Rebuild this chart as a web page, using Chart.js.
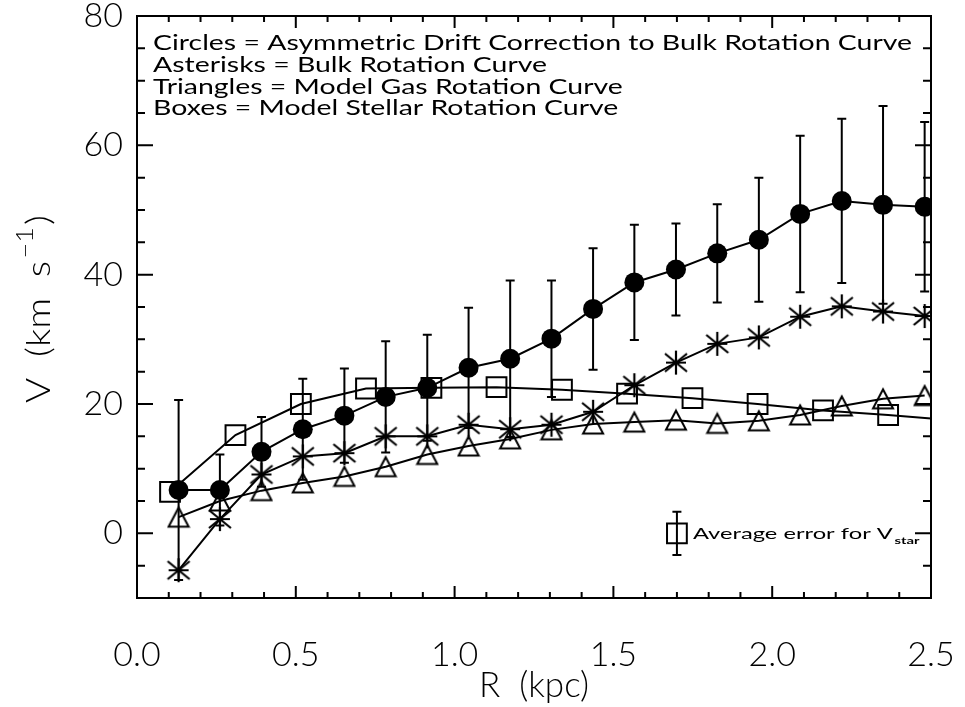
<!DOCTYPE html>
<html>
<head>
<meta charset="utf-8">
<script src="https://cdn.jsdelivr.net/npm/chart.js@4.4.1/dist/chart.umd.min.js"></script>
<style>
  html, body { margin: 0; padding: 0; background: #fff; }
  #chart { display: block; }
</style>
</head>
<body>
<canvas id="chart" width="965" height="707"></canvas>
<script>
// radii shared by circles, asterisks and triangles (kpc)
const radii = [0.131, 0.261, 0.392, 0.522, 0.653, 0.783, 0.914, 1.044, 1.175, 1.305,
  1.436, 1.566, 1.697, 1.827, 1.958, 2.088, 2.219, 2.349, 2.480];

// circles: asymmetric drift corrected curve + its errors
const vDrift = [6.7, 6.7, 12.6, 16.1, 18.2, 21.1, 22.5, 25.6, 27.0, 30.1,
  34.7, 38.8, 40.8, 43.3, 45.4, 49.4, 51.4, 50.8, 50.5];
const errDrift = [13.9, 5.5, 5.4, 7.8, 7.3, 8.6, 8.2, 9.3, 12.1, 9.0,
  9.4, 8.9, 7.1, 7.6, 9.6, 12.1, 12.7, 15.3, 13.1];

// asterisks: bulk rotation curve
const vBulk = [-5.7, 2.2, 9.1, 11.9, 12.4, 15.0, 15.0, 16.8, 16.1, 16.8,
  18.8, 22.9, 26.4, 29.3, 30.3, 33.5, 35.1, 34.3, 33.6];

// triangles: model gas curve
const vGas = [2.5, 5.0, 6.6, 7.8, 8.8, 10.3, 12.2, 13.5, 14.6, 16.0,
  16.9, 17.2, 17.5, 17.0, 17.4, 18.3, 19.7, 20.8, 21.3];

// boxes: model stellar curve (own radii, last one falls past the axis)
const rStar = [0.104, 0.310, 0.516, 0.721, 0.927, 1.132, 1.338, 1.543, 1.749, 1.954, 2.160, 2.365, 2.571];
const vStar = [6.4, 15.2, 20.0, 22.4, 22.5, 22.6, 22.2, 21.6, 20.9, 20.0, 19.0, 18.3, 17.5];

// average error marker for V_star
const avgErrR = [1.70];
const avgErrV = [0];
const avgErr = [3.35];

const xTicks = [0.0, 0.5, 1.0, 1.5, 2.0, 2.5];
const yTicks = [0, 20, 40, 60, 80];

const legendLines = [
  "Circles = Asymmetric Drift Correction to Bulk Rotation Curve",
  "Asterisks = Bulk Rotation Curve",
  "Triangles = Model Gas Rotation Curve",
  "Boxes = Model Stellar Rotation Curve",
];

const toPoints = (xs, ys) => xs.map((x, i) => ({ x: x, y: ys[i] }));

// IDL style triangle: bbox centred on the point
function makeTriangle() {
  const c = document.createElement("canvas");
  c.width = 24;
  c.height = 24;
  const g = c.getContext("2d");
  g.strokeStyle = "#000";
  g.lineWidth = 2;
  g.beginPath();
  g.moveTo(12, 2.5);
  g.lineTo(22, 21.5);
  g.lineTo(2, 21.5);
  g.closePath();
  g.stroke();
  return c;
}

// IDL style asterisk: plus and cross on top of each other
function makeAsterisk() {
  const c = document.createElement("canvas");
  c.width = 26;
  c.height = 26;
  const g = c.getContext("2d");
  g.strokeStyle = "#000";
  g.lineWidth = 2.2;
  g.beginPath();
  g.moveTo(13, 1); g.lineTo(13, 25);
  g.moveTo(2, 4); g.lineTo(24, 22);
  g.moveTo(24, 4); g.lineTo(2, 22);
  g.moveTo(3, 13); g.lineTo(23, 13);
  g.stroke();
  return c;
}

const lightFont = "Lato";

// drop the extra room Chart.js keeps for overhanging labels
const noPad = (s) => {
  s.paddingLeft = 0;
  s.paddingRight = 0;
  s.paddingTop = 0;
  s.paddingBottom = 0;
};

// frame plus inward ticks on all four sides
const framePlugin = {
  id: "frame",
  afterDraw(chart) {
    const { ctx, chartArea: a, scales } = chart;
    const xs = scales.x, ys = scales.y;
    ctx.save();
    ctx.strokeStyle = "#000";
    ctx.lineWidth = 2;
    ctx.strokeRect(a.left, a.top, a.right - a.left, a.bottom - a.top);
    ctx.beginPath();
    for (let i = 0; i <= 25; i++) {
      const px = xs.getPixelForValue(i / 10);
      const len = i % 5 === 0 ? 12 : 6;
      ctx.moveTo(px, a.bottom); ctx.lineTo(px, a.bottom - len);
      ctx.moveTo(px, a.top); ctx.lineTo(px, a.top + len);
    }
    for (let v = -10; v <= 80; v += 5) {
      const py = ys.getPixelForValue(v);
      const len = v % 20 === 0 ? 16 : 8;
      ctx.moveTo(a.left, py); ctx.lineTo(a.left + len, py);
      ctx.moveTo(a.right, py); ctx.lineTo(a.right - len, py);
    }
    ctx.stroke();
    ctx.restore();
  },
};

// vertical error bars with caps
const errorPlugin = {
  id: "errbars",
  afterDatasetsDraw(chart) {
    const { ctx, chartArea: a, scales } = chart;
    ctx.save();
    ctx.beginPath();
    ctx.rect(a.left, a.top, a.right - a.left, a.bottom - a.top);
    ctx.clip();
    ctx.strokeStyle = "#000";
    ctx.lineWidth = 2;
    chart.data.datasets.forEach((ds) => {
      if (!ds.errors) return;
      ds.data.forEach((p, i) => {
        const e = ds.errors[i];
        const px = scales.x.getPixelForValue(p.x);
        const top = scales.y.getPixelForValue(p.y + e);
        const bot = scales.y.getPixelForValue(p.y - e);
        ctx.beginPath();
        ctx.moveTo(px, top); ctx.lineTo(px, bot);
        ctx.moveTo(px - 4.5, top); ctx.lineTo(px + 4.5, top);
        ctx.moveTo(px - 4.5, bot); ctx.lineTo(px + 4.5, bot);
        ctx.stroke();
      });
    });
    ctx.restore();
  },
};

// legend text block, average error label and the y title with its superscript
const textPlugin = {
  id: "notes",
  afterDraw(chart) {
    const { ctx, chartArea: a, scales } = chart;
    ctx.save();
    ctx.fillStyle = "#000";
    ctx.textBaseline = "alphabetic";
    ctx.font = "21px Lato";
    const sx = 759 / ctx.measureText(legendLines[0]).width;
    legendLines.forEach((line, i) => {
      ctx.save();
      ctx.translate(a.left + 16, a.top + 34 + i * 21.8);
      ctx.scale(sx, 1);
      ctx.fillText(line, 0, 0);
      ctx.restore();
    });

    const px = scales.x.getPixelForValue(avgErrR[0]) + 16;
    const py = scales.y.getPixelForValue(avgErrV[0]) + 6;
    ctx.font = "16px Lato";
    const main = "Average error for V";
    const s2 = 200 / ctx.measureText(main).width;
    ctx.save();
    ctx.translate(px, py);
    ctx.scale(s2, 1);
    ctx.fillText(main, 0, 0);
    const w = ctx.measureText(main).width;
    ctx.font = "bold 10px Lato";
    ctx.fillText("star", w + 1, 5);
    ctx.restore();

    // y title, rotated, built from pieces so the -1 is a real superscript
    const bigFont = "300 34px " + lightFont;
    const supFont = "300 24px " + lightFont;
    ctx.font = bigFont;
    const p1 = "V  (km  s";
    const w1 = ctx.measureText(p1).width;
    ctx.font = supFont;
    const w2 = ctx.measureText("\u22121").width;
    ctx.font = bigFont;
    const w3 = ctx.measureText(")").width;
    const total = w1 + w2 + w3 + 4;
    const sy = 188 / total;
    ctx.save();
    ctx.translate(50, 403);
    ctx.rotate(-Math.PI / 2);
    ctx.scale(sy, 1);
    ctx.font = bigFont;
    ctx.fillText(p1, 0, 0);
    ctx.font = supFont;
    ctx.fillText("\u22121", w1 + 2, -17);
    ctx.font = bigFont;
    ctx.fillText(")", w1 + w2 + 4, 0);
    ctx.restore();
    ctx.restore();
  },
};

const baseLine = {
  showLine: true,
  borderColor: "#000",
  borderWidth: 2,
  pointBorderColor: "#000",
  pointBorderWidth: 2,
  pointHoverRadius: 0,
};

new Chart(document.getElementById("chart"), {
  type: "scatter",
  data: {
    datasets: [
      {
        ...baseLine,
        label: "Boxes",
        data: toPoints(rStar, vStar),
        pointStyle: "rect",
        pointRadius: 14,
        pointBackgroundColor: "rgba(0,0,0,0)",
      },
      {
        ...baseLine,
        label: "Triangles",
        data: toPoints(radii, vGas),
        pointStyle: makeTriangle(),
        pointBackgroundColor: "rgba(0,0,0,0)",
      },
      {
        ...baseLine,
        label: "Asterisks",
        data: toPoints(radii, vBulk),
        pointStyle: makeAsterisk(),
      },
      {
        ...baseLine,
        label: "Circles",
        data: toPoints(radii, vDrift),
        errors: errDrift,
        pointStyle: "circle",
        pointRadius: 10,
        pointBackgroundColor: "#000",
        pointBorderWidth: 0,
      },
      {
        ...baseLine,
        showLine: false,
        label: "Average error",
        data: toPoints(avgErrR, avgErrV),
        errors: avgErr,
        pointStyle: "rect",
        pointRadius: 14,
        pointBackgroundColor: "rgba(0,0,0,0)",
      },
    ],
  },
  options: {
    responsive: false,
    animation: false,
    devicePixelRatio: 1,
    layout: { padding: { top: 6, right: 34, left: 0, bottom: 0 } },
    plugins: {
      legend: { display: false },
      tooltip: { enabled: false },
    },
    scales: {
      x: {
        type: "linear",
        min: 0,
        max: 2.5,
        afterFit: (s) => { s.height = 109; noPad(s); },
        afterBuildTicks: (s) => { s.ticks = xTicks.map((v) => ({ value: v })); },
        grid: { display: false, drawTicks: false },
        border: { display: false },
        ticks: {
          padding: 37,
          color: "#000",
          font: { family: lightFont, size: 34, weight: 300 },
          callback: (v) => v.toFixed(1),
        },
        title: {
          display: true,
          text: "R  (kpc)",
          color: "#000",
          padding: { top: 0, bottom: 0 },
          font: { family: lightFont, size: 35, weight: 300 },
        },
      },
      y: {
        type: "linear",
        min: -10,
        max: 80,
        afterFit: (s) => { s.width = 137; noPad(s); },
        afterBuildTicks: (s) => { s.ticks = yTicks.map((v) => ({ value: v })); },
        grid: { display: false, drawTicks: false },
        border: { display: false },
        ticks: {
          padding: 14,
          color: "#000",
          font: { family: lightFont, size: 34, weight: 300 },
        },
      },
    },
  },
  plugins: [errorPlugin, framePlugin, textPlugin],
});
</script>
</body>
</html>
